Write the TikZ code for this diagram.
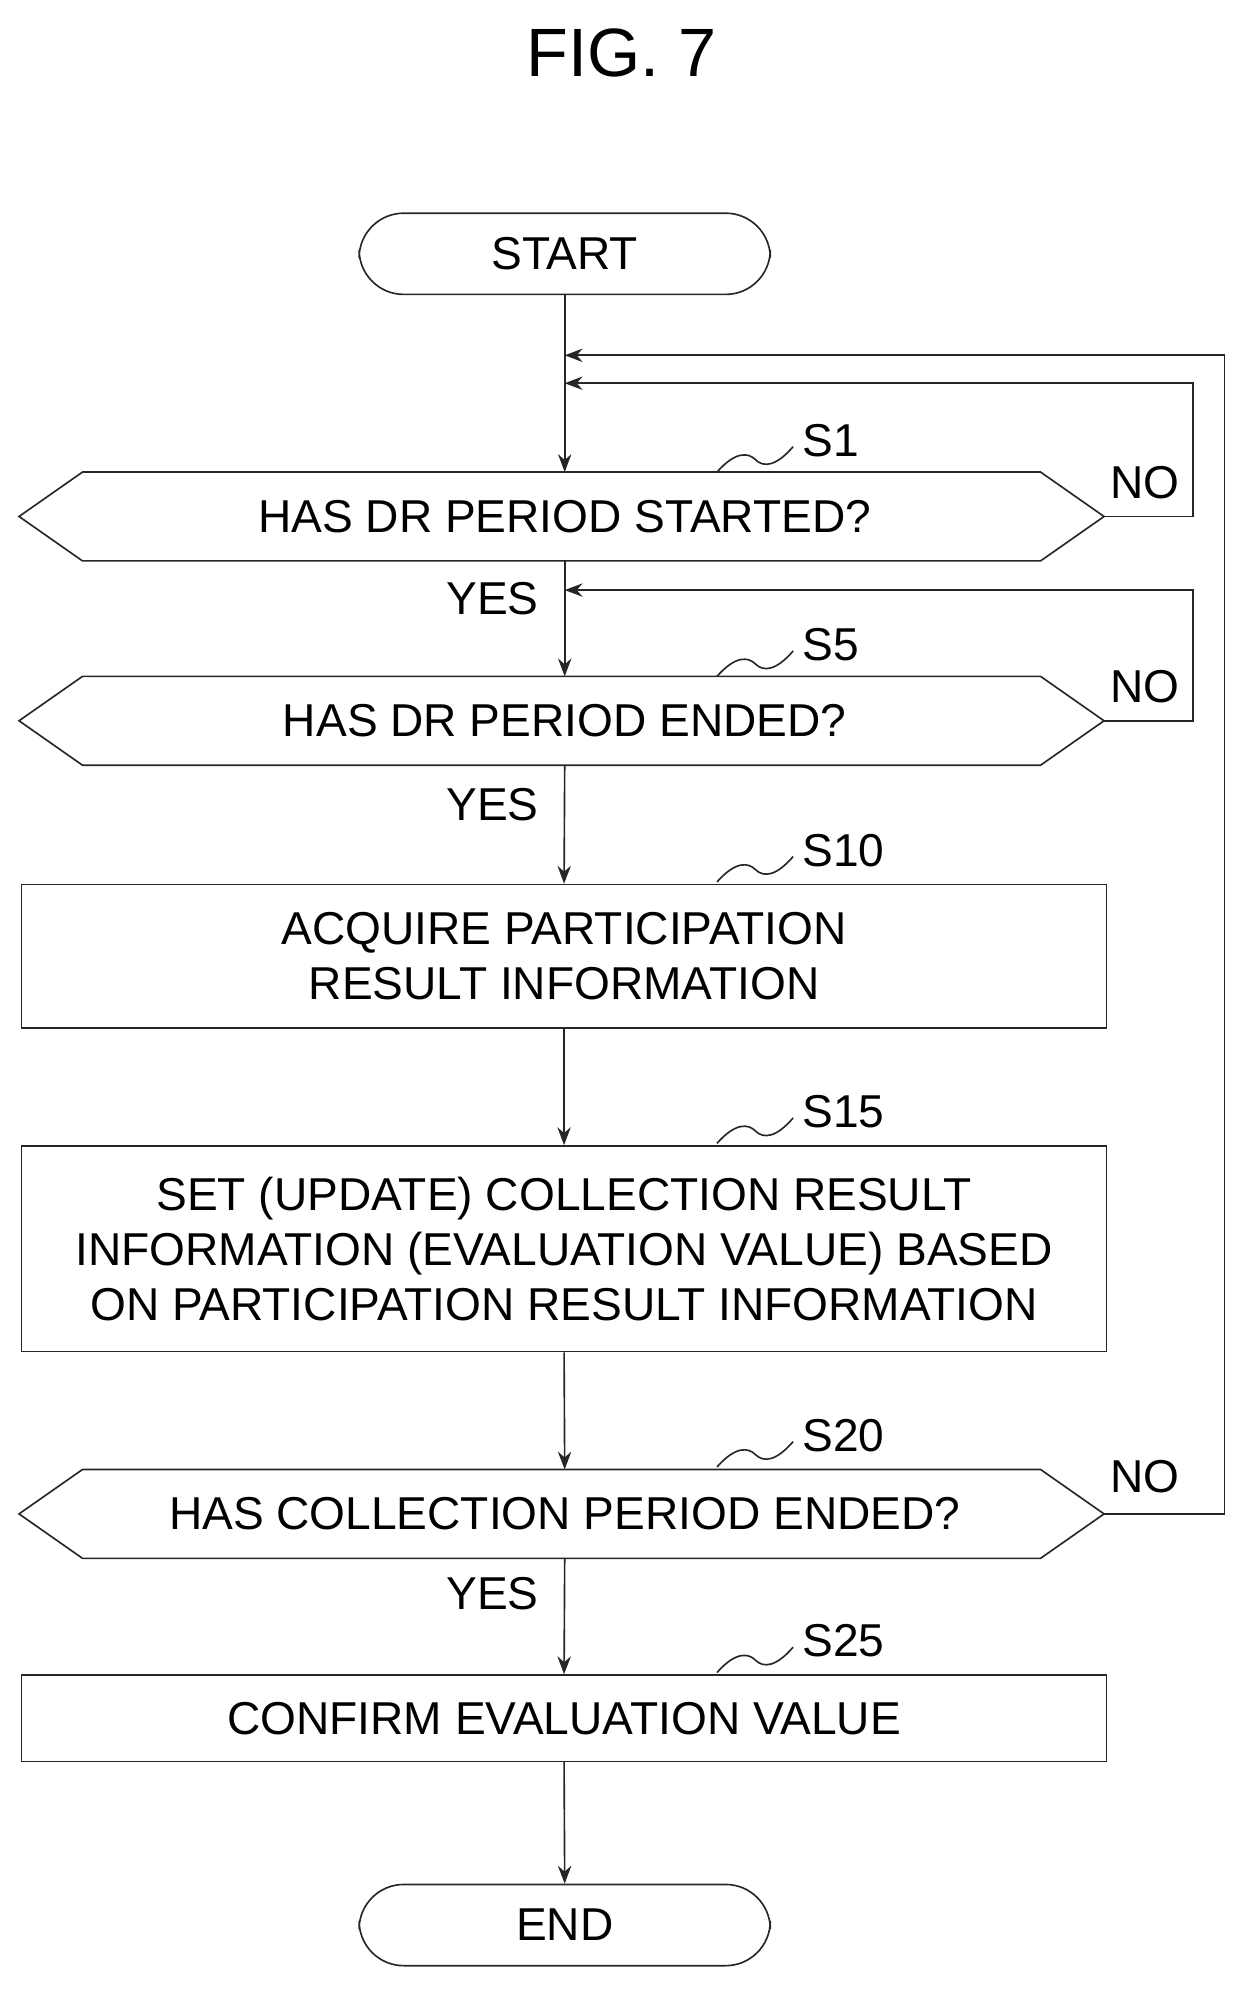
\documentclass[tikz,border=0pt]{standalone}
\usepackage{fontspec}
\setmainfont{Liberation Sans}
\usetikzlibrary{arrows.meta}
\begin{document}
\begin{tikzpicture}[x=0.03cm,y=-0.03cm,
  line/.style={line width=1.1pt,draw=black!85},
  arr/.style={line,-{Stealth[length=12pt,width=9pt]}},
  txt/.style={font=\fontsize{31}{37}\selectfont,align=center,inner sep=0pt},
  lab/.style={font=\fontsize{31}{37}\selectfont,inner sep=0pt}]
\useasboundingbox (0,0) rectangle (990,1580);
\node[font=\fontsize{46}{50}\selectfont] (title) at (490,42) {FIG. 7};
% terminals
\node[line,rounded corners=30pt,minimum width=324*0.03cm,minimum height=64*0.03cm,txt] (start) at (445,200) {START};
\node[line,rounded corners=30pt,minimum width=324*0.03cm,minimum height=64*0.03cm,txt] (end) at (445,1517) {END};
% hexagons
\newcommand\hexa[3]{%
 \draw[line] (15,#1) -- (65,#1-35) -- (820,#1-35) -- (870,#1) -- (820,#1+35) -- (65,#1+35) -- cycle;
 \node[txt] (#2) at (445,#1) {#3};
 \coordinate (#2t) at (445,#1-35); \coordinate (#2b) at (445,#1+35); \coordinate (#2r) at (870,#1);}
\hexa{407}{s1}{HAS DR PERIOD STARTED?}
\hexa{568}{s5}{HAS DR PERIOD ENDED?}
\hexa{1193}{s20}{HAS COLLECTION PERIOD ENDED?}
% boxes
\node[line,minimum width=855*0.03cm,minimum height=113*0.03cm,txt] (s10) at (444.5,753.5) {ACQUIRE PARTICIPATION\\RESULT INFORMATION};
\node[line,minimum width=855*0.03cm,minimum height=162*0.03cm,txt] (s15) at (444.5,984) {SET (UPDATE) COLLECTION RESULT\\INFORMATION (EVALUATION VALUE) BASED\\ON PARTICIPATION RESULT INFORMATION};
\node[line,minimum width=855*0.03cm,minimum height=68*0.03cm,txt] (s25) at (444.5,1354) {CONFIRM EVALUATION VALUE};
% main flow
\coordinate (j1) at (445,280); \coordinate (j2) at (445,302); \coordinate (j3) at (445,465);
\draw[line] (start.south) -- (j1);
\draw[arr] (j1) -- (s1t);
\draw[arr] (s1b) -- (s5t);
\draw[arr] (s5b) -- (s10.north);
\draw[arr] (s10.south) -- (s15.north);
\draw[arr] (s15.south) -- (s20t);
\draw[arr] (s20b) -- (s25.north);
\draw[arr] (s25.south) -- (end.north);
% loops
\coordinate (c1a) at (940,407); \coordinate (c1b) at (940,302);
\draw[arr] (s1r) -- (c1a) -- (c1b) -- (j2);
\coordinate (c5a) at (940,568); \coordinate (c5b) at (940,465);
\draw[arr] (s5r) -- (c5a) -- (c5b) -- (j3);
\coordinate (c20a) at (965,1193); \coordinate (c20b) at (965,280);
\draw[arr] (s20r) -- (c20a) -- (c20b) -- (j1);
% labels
\node[lab] (n1) at (902,380) {NO};
\node[lab] (n5) at (902,541) {NO};
\node[lab] (n20) at (902,1164) {NO};
\node[lab] (y1) at (388,472) {YES};
\node[lab] (y5) at (388,634) {YES};
\node[lab] (y20) at (388,1256) {YES};
% step labels
\newcommand\step[2]{%
 \draw[line] (565,#1+25) .. controls (580,#1+8) and (590,#1+10) .. (595,#1+15) .. controls (602,#1+22) and (612,#1+20) .. (625,#1+5);
 \node[lab,anchor=west] at (632,#1) {#2};}
\step{347}{S1}
\step{508}{S5}
\step{670}{S10}
\step{876}{S15}
\step{1131}{S20}
\step{1293}{S25}
\end{tikzpicture}
\end{document}
